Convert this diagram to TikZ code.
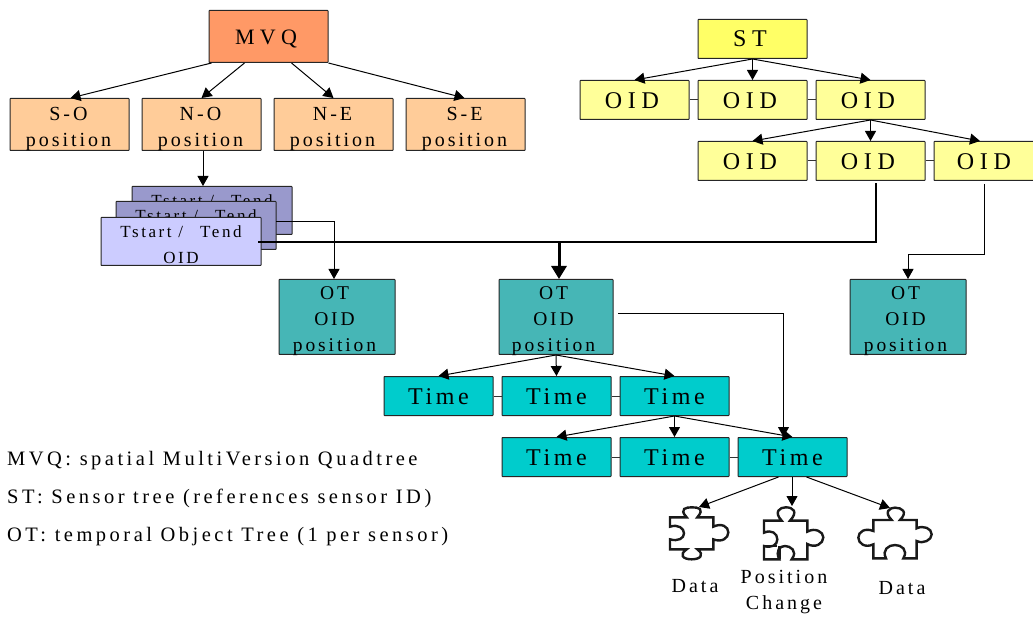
\documentclass[tikz,border=0pt]{standalone}
\usepackage{fontspec}
\setmainfont{Liberation Serif}
\newfontfamily\spcfont[LetterSpace=15]{Liberation Serif}
\newfontfamily\capfont[LetterSpace=24]{Liberation Serif}
\newfontfamily\legfont[LetterSpace=17]{Liberation Serif}
\newcommand\lsh{\hspace*{-5pt}}
\usetikzlibrary{arrows.meta,calc}
\tikzset{
  x=1pt,y=-1pt,
  box/.style={draw=black!85,line width=1pt,rounded corners=.5pt,inner sep=0pt,anchor=north west,align=center,xshift=-.5pt},
  smalltxt/.style={font=\fontsize{20}{26.5}\selectfont\spcfont},
  mvqbox/.style={box,font=\fontsize{22}{26.5}\selectfont\capfont,fill=mvqc,minimum width=119pt,minimum height=52pt,text height=17pt,text depth=0pt},
  posbox/.style={box,smalltxt,fill=posc,minimum width=119pt,minimum height=52pt,text height=45pt,text depth=0pt},
  stbox/.style={box,font=\fontsize{24}{27}\selectfont\capfont,fill=stc,minimum width=109pt,minimum height=39pt},
  oidbox/.style={box,font=\fontsize{24}{27}\selectfont\capfont,fill=oidc,minimum width=109pt,minimum height=39pt,text height=18pt,text depth=0pt},
  timebox/.style={box,font=\fontsize{24}{27}\selectfont\spcfont,fill=timec,minimum width=109pt,minimum height=39pt,text height=16.5pt,text depth=0pt},
  otbox/.style={box,font=\fontsize{19.5}{26.2}\selectfont\spcfont,fill=otc,minimum width=116pt,minimum height=75pt,text height=70pt,text depth=0pt},
  backstack/.style={box,font=\fontsize{17}{26}\selectfont\spcfont,fill=stackb,minimum width=160pt,minimum height=48pt,text height=45pt,text depth=0pt},
  frontstack/.style={backstack,fill=stackf},
  link/.style={draw=black!80,line width=1pt},
  arr/.style={draw=black,line width=1pt,-{Triangle[length=10pt,width=11pt]}},
  thickarr/.style={draw=black,line width=3pt,-{Triangle[length=13pt,width=15pt]}},
  thickline/.style={draw=black,line width=2.8pt},
  legend/.style={anchor=base west,inner sep=0pt,font=\fontsize{20.5}{22}\selectfont\legfont},
  caption/.style={inner sep=0pt,align=center,font=\fontsize{20}{26.5}\selectfont\spcfont},
  piece/.style={draw=black!90,line width=2.4pt,line join=miter},
}
\definecolor{mvqc}{HTML}{FF9966}
\definecolor{posc}{HTML}{FFCC99}
\definecolor{stc}{HTML}{FFFF66}
\definecolor{oidc}{HTML}{FFFF99}
\definecolor{timec}{HTML}{00CCCC}
\definecolor{otc}{HTML}{46B6B6}
\definecolor{stackb}{HTML}{9999CC}
\definecolor{stackf}{HTML}{CCCCFF}
\begin{document}
\begin{tikzpicture}
\useasboundingbox (0,0) rectangle (1033,617);
% MVQ
\node[mvqbox] (mvq) at (209,10) {\lsh MVQ};
\node[posbox] (so) at (10,98) {\hspace*{-2pt}S-O\\\hspace*{-2pt}position};
\node[posbox] (no) at (142,98) {\hspace*{-2pt}N-O\\\hspace*{-2pt}position};
\node[posbox] (ne) at (274,98) {\hspace*{-2pt}N-E\\\hspace*{-2pt}position};
\node[posbox] (se) at (406,98) {\hspace*{-2pt}S-E\\\hspace*{-2pt}position};
\draw[arr] ([xshift=3pt]mvq.south west) -- ([xshift=1pt]so.north);
\draw[arr] ([xshift=-24pt]mvq.south) -- (no.north);
\draw[arr] ([xshift=23pt]mvq.south) -- (ne.north);
\draw[arr] (mvq.south east) -- ([xshift=-1pt]se.north);
% ST
\node[stbox] (st) at (698,19) {\lsh ST};
\node[oidbox] (a1) at (580,80) {\lsh OID};
\node[oidbox] (a2) at (698,80) {\lsh OID};
\node[oidbox] (a3) at (816,80) {\lsh OID};
\node[oidbox] (b1) at (698,141) {\lsh OID};
\node[oidbox] (b2) at (816,141) {\lsh OID};
\node[oidbox,minimum width=100pt] (b3) at (934,141) {OID};
\draw[link] (a1) -- (a2);
\draw[link] (a2) -- (a3);
\draw[link] (b1) -- (b2);
\draw[link] (b2) -- (b3);
\draw[arr] (st.south) -- (a1.north);
\draw[arr] (st.south) -- (a2.north);
\draw[arr] (st.south) -- (a3.north);
\draw[arr] (a3.south) -- (b1.north);
\draw[arr] (a3.south) -- (b2.north);
\draw[arr] (a3.south) -- ([xshift=-4pt]b3.north);
% Stack
\node[backstack] (s1) at (132,186) {Tstart /\quad Tend\\\phantom{OID}};
\node[backstack] (s2) at (116,201) {Tstart /\quad Tend\\\phantom{OID}};
\node[frontstack] (s3) at (101,217) {Tstart /\quad Tend\\OID};
\draw[arr] ([xshift=1.5pt]no.south) -- ([xshift=1.5pt]no.south |- s1.north);
% OT boxes
\node[otbox] (ot1) at (279,279) {\lsh OT\\\lsh OID\\\lsh position};
\node[otbox,minimum width=114pt] (ot2) at (499,279) {\lsh OT\\\lsh OID\\\lsh position};
\node[otbox] (ot3) at (850,279) {\lsh OT\\\lsh OID\\\lsh position};
% Connectors to OT
\coordinate (s2r) at (276,222);
\coordinate (s3r) at (258,242);
\coordinate (b2d) at (876,183);
\coordinate (b3d) at (984,184);
\coordinate (ot2r) at (618,314);
\draw[arr] (s2r) -| ([xshift=-3pt]ot1.north);
\draw[thickline] (s3r) -| (b2d);
\draw[thickarr] ([xshift=3pt]ot2.north |- s3r) -- ([xshift=3pt]ot2.north);
\draw[arr] (b3d) -- (984,255) -| (ot3.north);
% Time
\node[timebox] (t1) at (384,376) {Time};
\node[timebox] (t2) at (502,376) {Time};
\node[timebox] (t3) at (620,376) {Time};
\node[timebox] (u1) at (502,437) {Time};
\node[timebox] (u2) at (620,437) {Time};
\node[timebox] (u3) at (738,437) {Time};
\draw[link] (t1) -- (t2);
\draw[link] (t2) -- (t3);
\draw[link] (u1) -- (u2);
\draw[link] (u2) -- (u3);
\draw[arr] (ot2.south) -- (t1.north);
\draw[arr] (ot2.south) -- (t2.north);
\draw[arr] (ot2.south) -- (t3.north);
\draw[arr] (t3.south) -- (u1.north);
\draw[arr] (t3.south) -- (u2.north);
\draw[arr] (t3.south) -- (u3.north);
\draw[arr] (ot2r) -| ([xshift=-9pt]u3.north);
% Puzzle pieces
\coordinate (p1) at (699,507);
\coordinate (p2) at (792,506);
\coordinate (p3) at (890,508);
\draw[arr] ([xshift=-14pt]u3.south) -- (p1);
\draw[arr] (u3.south -| p2) -- (p2);
\draw[arr] ([xshift=14pt]u3.south) -- (p3);
\begin{scope}[shift={(640,480)},x=.33333pt,y=-.33333pt]
\draw[piece] (90,112) -- (140,112) .. controls (115,85) and (140,82) .. (155,82) .. controls (175,82) and (195,85) .. (172,112) -- (220,112) -- (220,140) .. controls (245,128) and (265,140) .. (265,157) .. controls (265,175) and (245,188) .. (220,178) -- (220,208) -- (172,208) .. controls (195,225) and (180,238) .. (155,238) .. controls (130,238) and (115,225) .. (140,208) -- (90,208) -- (90,178) .. controls (115,185) and (132,175) .. (132,160) .. controls (132,145) and (115,132) .. (90,140) -- cycle;
\draw[piece] (372,122) -- (425,122) .. controls (400,95) and (420,82) .. (437,82) .. controls (460,82) and (475,95) .. (450,122) -- (502,122) -- (502,155) .. controls (525,142) and (550,155) .. (550,172) .. controls (550,192) and (525,205) .. (502,192) -- (502,238) -- (455,238) .. controls (475,212) and (450,198) .. (435,198) .. controls (420,198) and (405,212) .. (418,238) -- (372,238) -- (372,198) .. controls (395,205) and (412,195) .. (412,178) .. controls (412,160) and (395,148) .. (372,158) -- cycle;
\draw[piece] (372,198) -- (410,198) (418,198) -- (418,238);
\end{scope}
\begin{scope}[shift={(850,495)},x=.33333pt,y=-.33333pt]
\draw[piece] (70,75) -- (125,75) .. controls (100,50) and (120,38) .. (135,38) .. controls (155,38) and (175,50) .. (150,75) -- (200,75) -- (200,100) .. controls (220,90) and (245,100) .. (245,118) .. controls (245,135) and (220,148) .. (200,138) -- (200,190) -- (160,190) .. controls (175,165) and (155,150) .. (135,150) .. controls (115,150) and (95,165) .. (108,190) -- (70,190) -- (70,148) .. controls (45,160) and (25,145) .. (25,128) .. controls (25,110) and (45,98) .. (70,108) -- cycle;
\end{scope}
% Captions
\node[caption] (c1) at (695,586) {Data};
\node[caption] (c2) at (784,592) {Position\\Change};
\node[caption] (c3) at (902,588) {Data};
% Legend
\node[legend] (l1) at (7,465) {MVQ: spatial MultiVersion Quadtree};
\node[legend] (l2) at (7,503) {ST: Sensor tree (references sensor ID)};
\node[legend] (l3) at (7,541) {OT: temporal Object Tree (1 per sensor)};
\end{tikzpicture}
\end{document}
